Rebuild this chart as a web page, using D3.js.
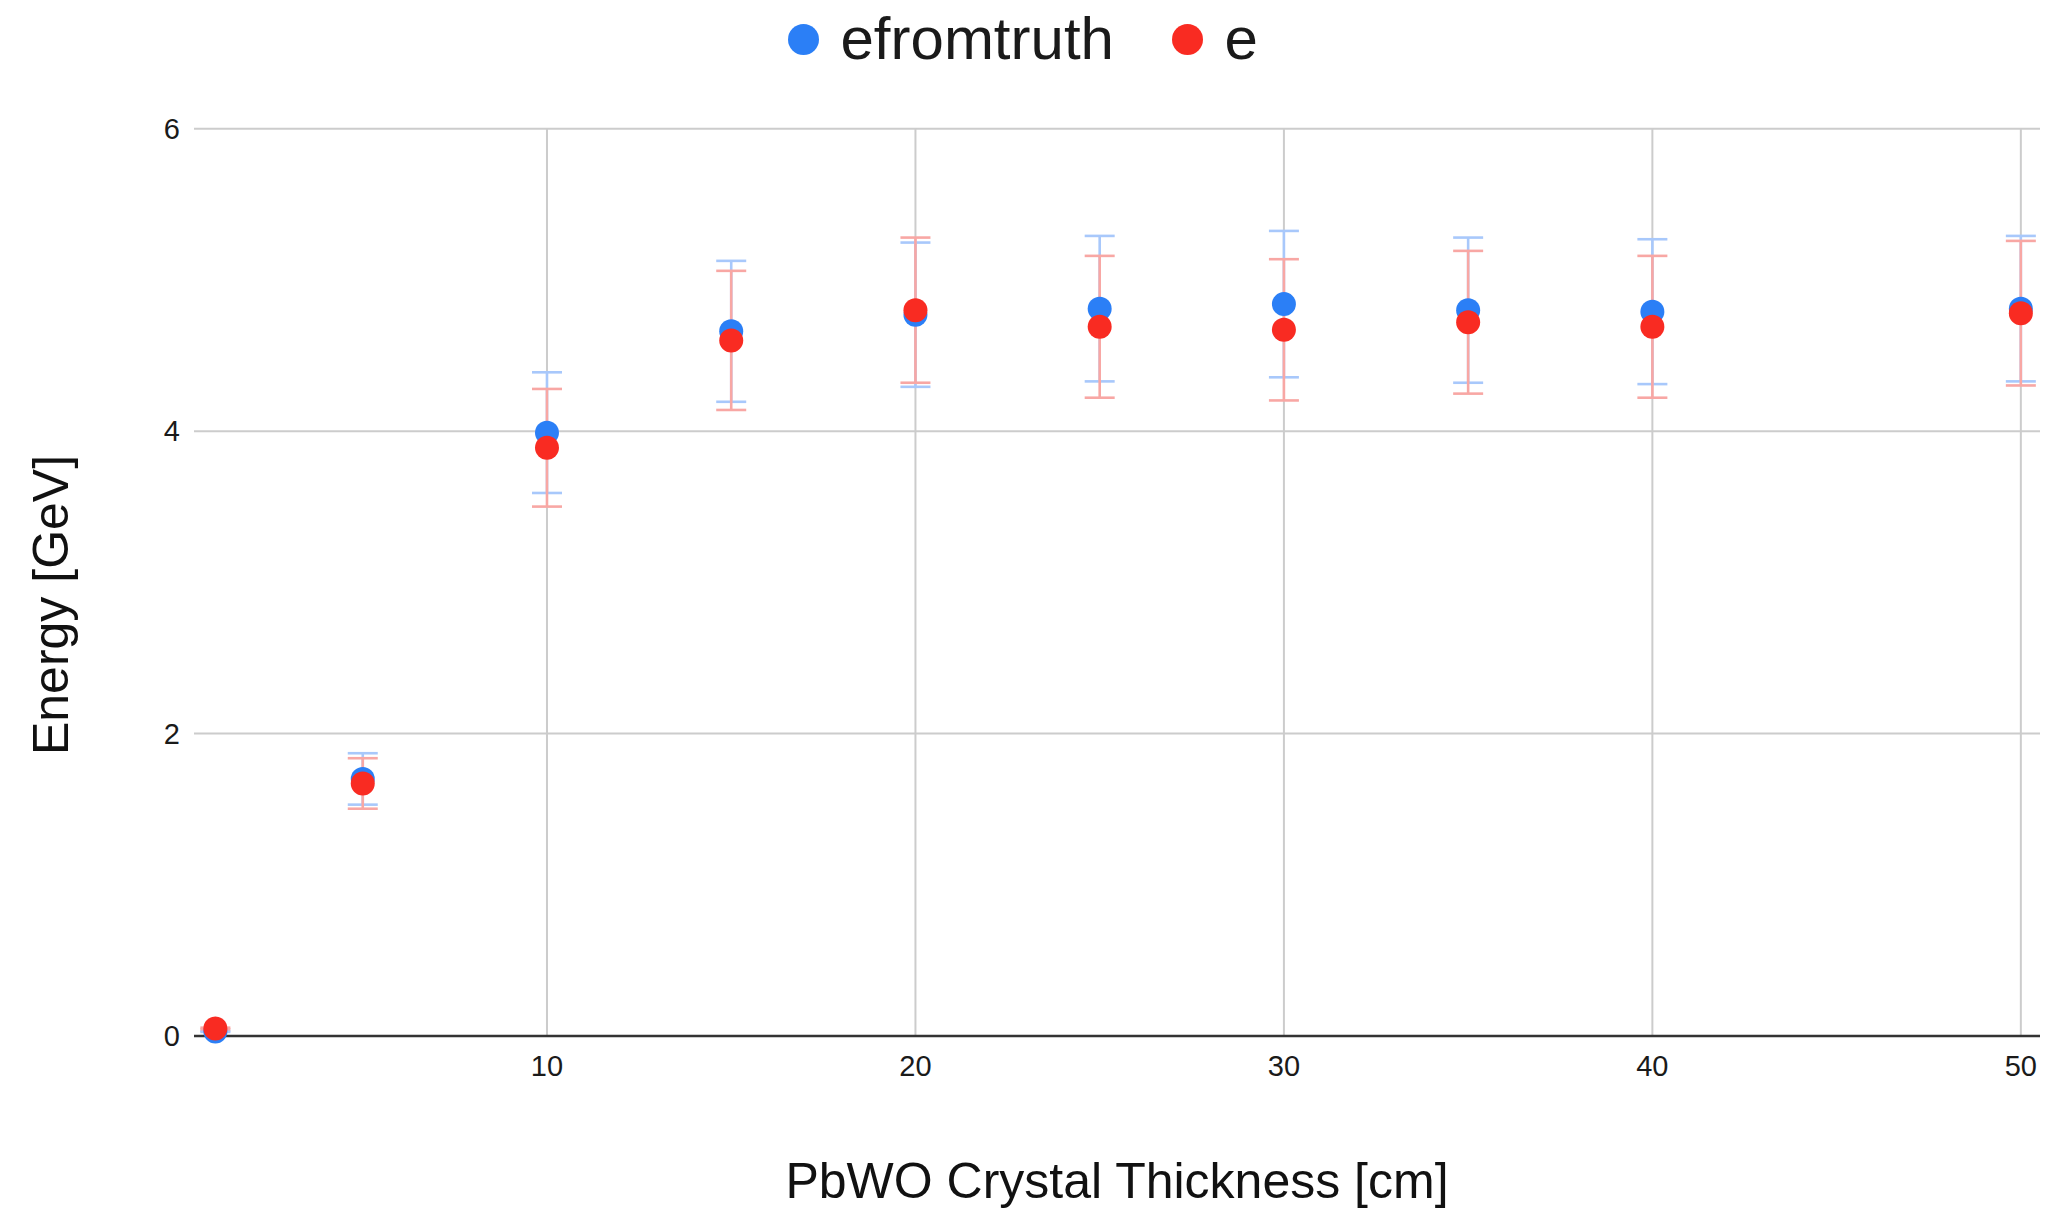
<!DOCTYPE html>
<html>
<head>
    <meta charset='utf-8'>
    <title>Energy vs PbWO thickness</title>
    <style>
    body {
      margin: 0;
      background: #fff;
      font-family: 'Liberation Sans', Arial, sans-serif;
    }
    text {
      pointer-events: none;
    }
    </style>
    <script src='https://d3js.org/d3.v7.min.js'></script>
</head>
<body>
<div id="container"></div>
<script>
// ******* Data *******
const thickness = [1, 5, 10, 15, 20, 25, 30, 35, 40, 50];
const efromtruth = [0.03, 1.70, 3.99, 4.66, 4.77, 4.81, 4.84, 4.80, 4.79, 4.81];
const eReco = [0.05, 1.67, 3.89, 4.60, 4.80, 4.69, 4.67, 4.72, 4.69, 4.78];
const seriesNames = ["efromtruth", "e"];
const xTicks = [10, 20, 30, 40, 50];
const yTicks = [0, 2, 4, 6];
const errorPercent = 10;   // error bars are a constant percent of the value

// ******* Constants *******
const width = 2053,
      height = 1211,
      colors = ["#2b7ff6", "#f92b22"],
      barColors = ["#a8c8fb", "#f8a7a4"];   // lighter shade of each series

const plot = {left: 194, right: 2040, top: 128.7, bottom: 1036};

// ******* Scales *******
var x = d3.scaleLinear()
    .domain([0.42, 50.52])
    .range([plot.left, plot.right]);
var y = d3.scaleLinear()
    .domain([0, 6])
    .range([plot.bottom, plot.top]);

// ******* SVG *******
var svg = d3.select("#container").append("svg")
    .attr("width", width)
    .attr("height", height)
    .style("display", "block");

// gridlines
svg.append("g").selectAll("line")
    .data(yTicks.filter(d => d !== 0))
    .enter().append("line")
    .attr("x1", plot.left).attr("x2", plot.right)
    .attr("y1", d => y(d)).attr("y2", d => y(d))
    .attr("stroke", "#cccccc").attr("stroke-width", 2);

svg.append("g").selectAll("line")
    .data(xTicks)
    .enter().append("line")
    .attr("x1", d => x(d)).attr("x2", d => x(d))
    .attr("y1", plot.top).attr("y2", plot.bottom)
    .attr("stroke", "#cccccc").attr("stroke-width", 2);

// tick labels
svg.append("g").selectAll("text")
    .data(yTicks)
    .enter().append("text")
    .attr("x", plot.left - 14)
    .attr("y", d => y(d))
    .attr("text-anchor", "end")
    .attr("dominant-baseline", "central")
    .attr("font-size", 29)
    .attr("fill", "#1a1a1a")
    .text(d => d);

svg.append("g").selectAll("text")
    .data(xTicks)
    .enter().append("text")
    .attr("x", d => x(d))
    .attr("y", 1076)
    .attr("text-anchor", "middle")
    .attr("font-size", 29)
    .attr("fill", "#1a1a1a")
    .text(d => d);

// ******* Series *******
const series = [efromtruth, eReco].map(function(vals, s) {
    return thickness.map(function(t, i) {
        return {x: t, y: vals[i], err: vals[i] * errorPercent / 100, s: s};
    });
});
const allPoints = series[0].concat(series[1]);

// error bars first, then points (blue under red)
var bars = svg.append("g").selectAll("g")
    .data(allPoints)
    .enter().append("g")
    .attr("stroke", d => barColors[d.s])
    .attr("stroke-width", 2.6);
bars.append("line")
    .attr("x1", d => x(d.x)).attr("x2", d => x(d.x))
    .attr("y1", d => y(d.y - d.err)).attr("y2", d => y(d.y + d.err));
bars.append("line")
    .attr("x1", d => x(d.x) - 15).attr("x2", d => x(d.x) + 15)
    .attr("y1", d => y(d.y + d.err)).attr("y2", d => y(d.y + d.err));
bars.append("line")
    .attr("x1", d => x(d.x) - 15).attr("x2", d => x(d.x) + 15)
    .attr("y1", d => y(d.y - d.err)).attr("y2", d => y(d.y - d.err));

// x axis line
svg.append("line")
    .attr("x1", plot.left).attr("x2", plot.right)
    .attr("y1", y(0)).attr("y2", y(0))
    .attr("stroke", "#333").attr("stroke-width", 2.5);

series.forEach(function(pts, s) {
    svg.append("g").selectAll("circle")
        .data(pts)
        .enter().append("circle")
        .attr("cx", d => x(d.x))
        .attr("cy", d => y(d.y))
        .attr("r", 12)
        .attr("fill", colors[s]);
});

// ******* Legend *******
const legendX = [803.5, 1187.5];
var legend = svg.append("g").selectAll("g")
    .data(seriesNames)
    .enter().append("g");
legend.append("circle")
    .attr("cx", (d, i) => legendX[i])
    .attr("cy", 39.5)
    .attr("r", 15.5)
    .attr("fill", (d, i) => colors[i]);
legend.append("text")
    .attr("x", (d, i) => legendX[i] + 37)
    .attr("y", 58.5)
    .attr("font-size", 60)
    .attr("fill", "#1a1a1a")
    .text(d => d);

// ******* Axis titles *******
svg.append("text")
    .attr("x", (plot.left + plot.right) / 2)
    .attr("y", 1198)
    .attr("text-anchor", "middle")
    .attr("font-size", 50)
    .attr("fill", "#111")
    .text("PbWO Crystal Thickness [cm]");

svg.append("text")
    .attr("transform", "translate(68,605) rotate(-90)")
    .attr("text-anchor", "middle")
    .attr("font-size", 50)
    .attr("fill", "#111")
    .text("Energy [GeV]");
</script>
</body>
</html>
